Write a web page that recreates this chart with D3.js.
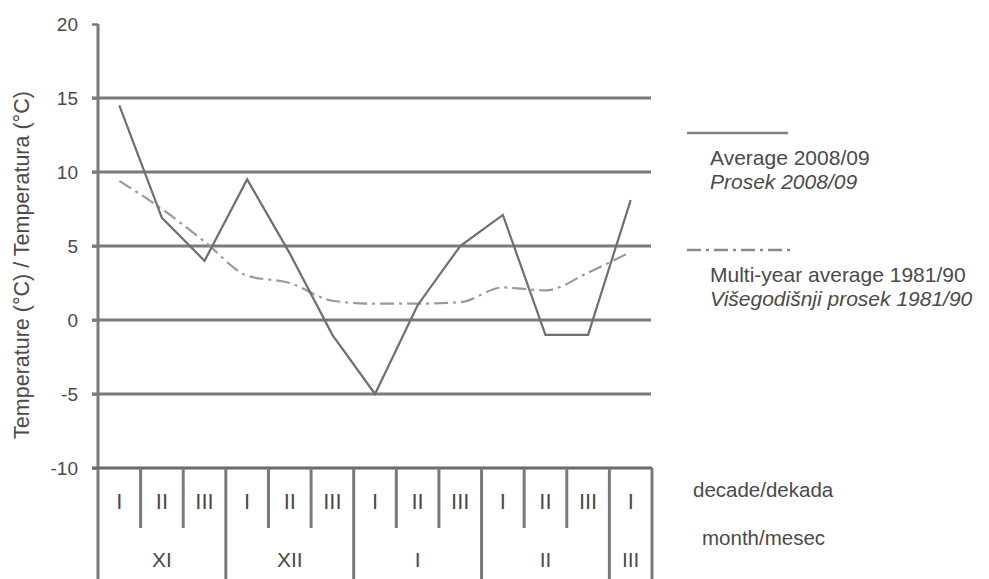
<!DOCTYPE html>
<html>
<head>
<meta charset="utf-8">
<script src="https://cdn.jsdelivr.net/npm/d3@7"></script>
<style>
  html, body { margin: 0; padding: 0; background: #fff; }
  svg { display: block; font-family: "Liberation Sans", Arial, sans-serif; }
</style>
</head>
<body>
<svg id="chart" width="989" height="579"></svg>
<script>
// Ten-day periods (decades) from November to early March
const decades = ["I", "II", "III", "I", "II", "III", "I", "II", "III", "I", "II", "III", "I"];
const months = ["XI", "XII", "I", "II", "III"];
const monthSpans = [3, 3, 3, 3, 1];

// Mean air temperature per decade, °C
const avg2008 = [14.5, 6.9, 4.0, 9.5, 4.5, -1.0, -5.0, 1.0, 5.0, 7.1, -1.0, -1.0, 8.1];
const avg1981 = [9.4, 7.5, 5.3, 3.0, 2.5, 1.3, 1.1, 1.1, 1.2, 2.2, 2.0, 3.2, 4.6];

const yTicks = [-10, -5, 0, 5, 10, 15, 20];
const gridValues = [-5, 0, 5, 10, 15];

const legendItems = [
  { lines: ["Average 2008/09", "Prosek 2008/09"], dash: null },
  { lines: ["Multi-year average 1981/90", "Višegodišnji prosek 1981/90"], dash: "14,5,3,5" }
];

(function () {
  const svg = d3.select("#chart");
  const plotL = 98, plotR = 652, plotT = 24, plotB = 468, tableB = 579;
  const ink = "#7a7a7a", textCol = "#4a4a4a";

  const x = d3.scaleBand().domain(d3.range(decades.length)).range([plotL, plotR]).padding(0);
  const y = d3.scaleLinear().domain([-10, 20]).range([plotB, plotT]);
  const cx = i => x(i) + x.bandwidth() / 2;

  // horizontal grid lines
  svg.append("g").selectAll("line").data(gridValues).join("line")
    .attr("x1", plotL - 6).attr("x2", plotR - 1)
    .attr("y1", d => y(d)).attr("y2", d => y(d))
    .attr("stroke", ink).attr("stroke-width", 3);

  // y axis with ticks (plain hyphen for negatives)
  const yAxis = svg.append("g").attr("transform", `translate(${plotL},0)`)
    .call(d3.axisLeft(y).tickValues(yTicks).tickSize(6).tickPadding(14)
      .tickFormat(d => String(d)));
  yAxis.select(".domain").remove();
  yAxis.selectAll(".tick line").attr("stroke", ink).attr("stroke-width", 2.5);
  yAxis.selectAll(".tick text")
    .attr("fill", textCol).attr("font-size", 19)
    .attr("font-family", "'Liberation Sans', Arial, sans-serif");

  svg.append("line")
    .attr("x1", plotL).attr("x2", plotL).attr("y1", plotT).attr("y2", tableB)
    .attr("stroke", ink).attr("stroke-width", 3);

  // y axis title
  svg.append("text")
    .attr("transform", `translate(29,265) rotate(-90)`)
    .attr("text-anchor", "middle")
    .attr("font-size", 21.5).attr("fill", textCol)
    .text("Temperature (°C) / Temperatura (°C)");

  // table beneath the plot: decade and month rows
  svg.append("line")
    .attr("x1", plotL - 6).attr("x2", plotR)
    .attr("y1", plotB).attr("y2", plotB)
    .attr("stroke", "#6a6a6a").attr("stroke-width", 3);

  const monthStarts = [];
  let acc = 0;
  monthSpans.forEach(s => { monthStarts.push(acc); acc += s; });

  // decade separators (short)
  const decadeBounds = d3.range(1, decades.length).filter(i => !monthStarts.includes(i));
  svg.append("g").selectAll("line").data(decadeBounds).join("line")
    .attr("x1", d => x(d)).attr("x2", d => x(d))
    .attr("y1", plotB).attr("y2", 528)
    .attr("stroke", ink).attr("stroke-width", 3);

  // month separators (full height)
  const monthBounds = monthStarts.slice(1).map(i => x(i)).concat([plotR]);
  svg.append("g").selectAll("line").data(monthBounds).join("line")
    .attr("x1", d => d).attr("x2", d => d)
    .attr("y1", plotB).attr("y2", tableB)
    .attr("stroke", ink).attr("stroke-width", 3);

  svg.append("g").selectAll("text").data(decades).join("text")
    .attr("x", (d, i) => cx(i)).attr("y", 509)
    .attr("text-anchor", "middle").attr("font-size", 22).attr("fill", textCol)
    .text(d => d);

  svg.append("g").selectAll("text").data(months).join("text")
    .attr("x", (d, i) => (x(monthStarts[i]) + (x(monthStarts[i] + monthSpans[i] - 1) + x.bandwidth())) / 2)
    .attr("y", 567)
    .attr("text-anchor", "middle").attr("font-size", 21).attr("fill", textCol)
    .text(d => d);

  svg.append("text").attr("x", 693).attr("y", 497)
    .attr("font-size", 20.5).attr("fill", textCol).text("decade/dekada");
  svg.append("text").attr("x", 702).attr("y", 545)
    .attr("font-size", 20.5).attr("fill", textCol).text("month/mesec");

  // series
  const lineGen = d3.line().x((d, i) => cx(i)).y(d => y(d));
  const smoothGen = d3.line().x((d, i) => cx(i)).y(d => y(d)).curve(d3.curveMonotoneX);

  svg.append("path").datum(avg1981)
    .attr("d", smoothGen).attr("fill", "none")
    .attr("stroke", "#9a9a9a").attr("stroke-width", 2.2)
    .attr("stroke-dasharray", "14,5,3,5");

  svg.append("path").datum(avg2008)
    .attr("d", lineGen).attr("fill", "none")
    .attr("stroke", "#6f6f6f").attr("stroke-width", 2.2)
    .attr("stroke-linejoin", "miter");

  // legend
  const legendTops = [133, 250];
  legendItems.forEach((item, k) => {
    const ly = legendTops[k];
    svg.append("line")
      .attr("x1", 687).attr("x2", item.dash ? 795 : 788)
      .attr("y1", ly).attr("y2", ly)
      .attr("stroke", item.dash ? "#8a8a8a" : "#808080").attr("stroke-width", 2.5)
      .attr("stroke-dasharray", item.dash);
    item.lines.forEach((t, j) => {
      svg.append("text")
        .attr("x", 710).attr("y", ly + 32 + j * 24)
        .attr("font-size", 21).attr("fill", textCol)
        .attr("font-style", j === 1 ? "italic" : "normal")
        .text(t);
    });
  });
})();
</script>
</body>
</html>
